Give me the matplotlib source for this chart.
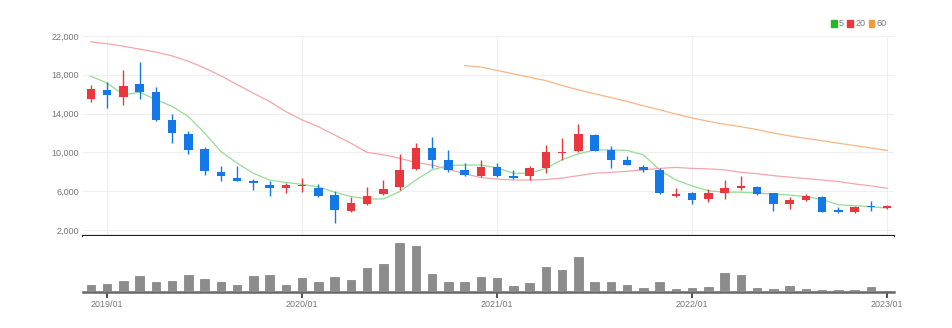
import matplotlib.pyplot as plt
import numpy as np

# monthly candles, 2018/12 .. 2023/01
opens = [15500, 16400, 15700, 17100, 16200, 13300, 11900, 10300, 8000, 7400,
         7100, 6650, 6300, 6550, 6300, 5600, 3950, 4700, 5750, 6400,
         8250, 10450, 9250, 8150, 7600, 8450, 7550, 7600, 8350, 9950,
         10100, 11800, 10200, 9250, 8450, 8200, 5550, 5850, 5200, 5800,
         6300, 6450, 5800, 4650, 5050, 5450, 4050, 3850, 4450, 4250]
closes = [16500, 15900, 16800, 16200, 13300, 12000, 10200, 8100, 7600, 7100,
          6800, 6350, 6600, 6650, 5500, 4050, 4750, 5550, 6250, 8200,
          10450, 9250, 8150, 7650, 8450, 7600, 7350, 8350, 10000, 10050,
          11900, 10150, 9250, 8700, 8200, 5800, 5700, 5100, 5850, 6350,
          6550, 5750, 4650, 5100, 5500, 3900, 3850, 4350, 4350, 4450]
highs = [16900, 17300, 18500, 19300, 16750, 14000, 12250, 10600, 8600, 8550,
         7250, 7050, 6800, 7350, 6750, 6050, 5450, 6480, 7130, 9850,
         10950, 11550, 10250, 8950, 9250, 8900, 8200, 8550, 10800, 11450,
         12900, 11900, 10700, 9650, 8650, 8350, 6300, 5950, 6250, 7150,
         7600, 6550, 5850, 5350, 5700, 5500, 4350, 4500, 5000, 4550]
lows = [15200, 14550, 14850, 15500, 13200, 11000, 9800, 7700, 7000, 7000,
        6150, 5550, 5850, 5900, 5450, 2750, 3850, 4600, 5600, 6150,
        8150, 8350, 8000, 7550, 7500, 7500, 7250, 7150, 7850, 9250,
        10000, 10100, 8350, 8650, 7950, 5700, 5450, 4700, 4850, 5150,
        6150, 5650, 4000, 4200, 4950, 3850, 3800, 3800, 3950, 4150]

ma5 = [17850, 17150, 15950, 16200, 15450, 14750, 13700, 12000, 10100, 8900,
       7850, 7150, 6900, 6700, 6450, 5900, 5450, 5200, 5200, 5950,
       7150, 8200, 8650, 8700, 8700, 8400, 7850, 7850, 8350, 9250,
       9850, 10250, 10250, 10200, 9750, 8200, 7150, 6550, 6050, 5900,
       5900, 5800, 5700, 5600, 5450, 5150, 4600, 4500, 4400, 4250]
ma20 = [21400, 21200, 20950, 20650, 20350, 19950, 19400, 18700, 17900, 17000,
        16100, 15250, 14200, 13350, 12650, 11800, 10950, 10000, 9750, 9400,
        8950, 8700, 8250, 7800, 7400, 7250, 7150, 7150, 7200, 7350,
        7600, 7850, 7950, 8050, 8200, 8350, 8450, 8350, 8300, 8200,
        7950, 7800, 7600, 7450, 7300, 7150, 7000, 6750, 6550, 6300]
ma60_start = 23
ma60 = [18950, 18800, 18450, 18100, 17750, 17400, 16900, 16450, 16050, 15650,
        15250, 14800, 14400, 13950, 13550, 13200, 12900, 12650, 12350, 12000,
        11700, 11450, 11200, 10950, 10700, 10450, 10200]

volume = [20, 22, 33, 48, 28, 33, 51, 39, 28, 21,
          46, 51, 19, 41, 28, 43, 34, 70, 82, 146,
          138, 53, 28, 28, 45, 40, 16, 25, 74, 65,
          104, 30, 30, 19, 11, 30, 9, 11, 14, 57,
          51, 10, 7, 16, 7, 6, 6, 6, 14, 3]

tick_pos = [1, 13, 25, 37, 49]
tick_labels = ['2019/01', '2020/01', '2021/01', '2022/01', '2023/01']

up_c = '#e8383d'
down_c = '#1479e6'
label_c = '#777777'
grid_c = '#efefef'
font = 'Liberation Sans'

fig = plt.figure(figsize=(9.52, 3.28), dpi=100)
ax = fig.add_axes([0.0872, 0.2814, 0.852, 0.6088])
axv = fig.add_axes([0.0872, 0.1107, 0.852, 0.1707])

x = np.arange(len(opens))
o = np.array(opens)
c = np.array(closes)
up = c >= o
colors = np.where(up, up_c, down_c)

# candles
ax.vlines(x, lows, highs, colors=colors, linewidth=1, zorder=3)
ax.bar(x, np.abs(c - o), bottom=np.minimum(o, c), width=0.52, color=colors,
       zorder=4)

# moving averages
ax.plot(x, ma5, color='#94dd94', lw=0.9, zorder=2)
ax.plot(x, ma20, color='#f4a6a9', lw=0.9, zorder=2)
ax.plot(np.arange(ma60_start, ma60_start + len(ma60)), ma60, color='#f8b585',
        lw=0.9, zorder=2)

ax.set_xlim(-0.48, 49.43)
ax.set_ylim(1410, 22000)
ax.set_yticks([2000, 6000, 10000, 14000, 18000, 22000])
ax.set_yticklabels(['2,000', '6,000', '10,000', '14,000', '18,000', '22,000'],
                   fontsize=6.5, color=label_c, family=font)
ax.set_xticks(tick_pos)
ax.tick_params(axis='x', length=0, labelbottom=False)
ax.tick_params(axis='y', length=0, pad=3)
ax.grid(True, color=grid_c, lw=0.8, zorder=0)
for s in ['left', 'right', 'top']:
    ax.spines[s].set_visible(False)
ax.spines['bottom'].set_color('#222222')
ax.spines['bottom'].set_linewidth(1.6)

# legend
leg_items = [('5', '#21b821'), ('20', '#e8383d'), ('60', '#f39a3c')]
lx = 0.9315
for txt, col in reversed(leg_items):
    t = fig.text(lx, 0.929, txt, fontsize=6.5, color=label_c, family=font,
                 ha='right', va='center')
    fig.canvas.draw()
    w = t.get_window_extent().width / 952
    fig.patches.append(plt.Rectangle((lx - w - 0.0085, 0.918), 0.0062, 0.022,
                                     transform=fig.transFigure, color=col,
                                     figure=fig))
    lx = lx - w - 0.012

# volume
axv.bar(x, volume, width=0.52, color='#8c8c8c', edgecolor='#7c7c7c', lw=0.5,
        zorder=3)
axv.set_xlim(-0.48, 49.43)
axv.set_ylim(0, 168)
axv.set_yticks([])
axv.set_xticks(tick_pos)
axv.set_xticklabels(tick_labels, fontsize=6.5, color=label_c, family=font)
axv.tick_params(axis='x', direction='out', length=4, width=1.2,
                color='#333333', pad=2)
for s in ['left', 'right', 'top']:
    axv.spines[s].set_visible(False)
axv.spines['bottom'].set_color('#666666')
axv.spines['bottom'].set_linewidth(1.8)

fig.savefig('out.png', dpi=100)
